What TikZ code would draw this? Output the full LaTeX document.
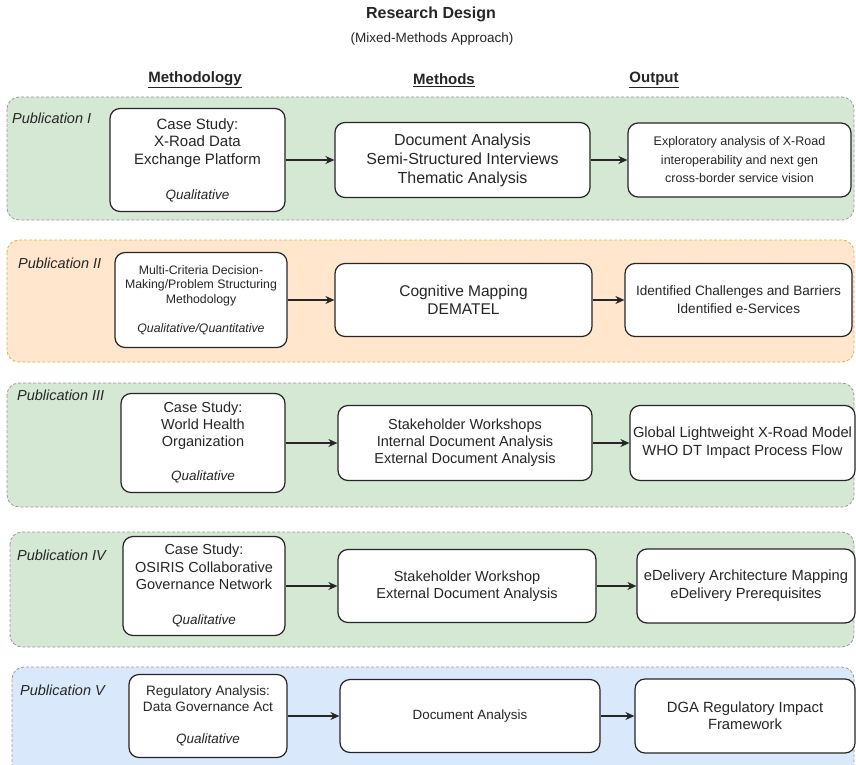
\documentclass[tikz,border=0pt]{standalone}
\usepackage{fontspec}
\setmainfont{Liberation Sans}
\usetikzlibrary{arrows.meta}
\definecolor{bandgreen}{HTML}{D5E8D4}
\definecolor{bandorange}{HTML}{FFE6CC}
\definecolor{bandblue}{HTML}{DAE8FC}
\definecolor{edgegrey}{HTML}{9A9A9A}
\definecolor{edgeorange}{HTML}{D6B656}
\definecolor{inkgrey}{HTML}{262626}
\newcommand{\fsz}[2]{\fontsize{#1}{#2}\selectfont}

\begin{document}
\begin{tikzpicture}[x=1pt, y=-1pt,
    band/.style={draw=edgegrey, dash pattern=on 3pt off 2pt, line width=0.8pt, rounded corners=12pt},
    box/.style={draw=inkgrey, fill=white, line width=1.2pt, rounded corners=10pt,
                align=center, inner sep=2pt, text=inkgrey},
    publabel/.style={anchor=west, font=\fsz{14.5}{17}\itshape, text=inkgrey, inner sep=0pt},
    head/.style={font=\fsz{15}{18}\bfseries, text=inkgrey},
    flow/.style={-{Stealth[length=9pt,width=8pt]}, line width=1.3pt, draw=inkgrey}]
  \clip (0,0) rectangle (856,765);
  \fill[white] (0,0) rectangle (856,765);

  \node[font=\fsz{16}{19}\bfseries, text=inkgrey] (title) at (431,14) {Research Design};
  \node[font=\fsz{13.5}{16}, text=inkgrey] (subtitle) at (432,39) {(Mixed-Methods Approach)};
  \node[head] (hmethodology) at (195,80) {\underline{Methodology}};
  \node[head] (hmethods) at (444,80) {\underline{Methods}};
  \node[head] (houtput) at (654,80) {\underline{Output}};

  \draw[band, fill=bandgreen] (7,97) rectangle (854,220);
  \draw[band, fill=bandorange, draw=edgeorange] (7,240) rectangle (854,362);
  \draw[band, fill=bandgreen] (7,383) rectangle (854,507);
  \draw[band, fill=bandgreen] (10,532) rectangle (854,647);
  \draw[band, fill=bandblue] (12,667) rectangle (854,780);

  \node[publabel] (p1) at (12,118) {Publication I};
  \node[publabel] (p2) at (18,263) {Publication II};
  \node[publabel] (p3) at (17,395) {Publication III};
  \node[publabel] (p4) at (17,555) {Publication IV};
  \node[publabel] (p5) at (20,690) {Publication V};

  % Publication I
  \node[box, minimum width=175, minimum height=103, font=\fsz{15}{17.5}] (m1) at (197.5,160)
    {Case Study:\\ X-Road Data\\ Exchange Platform\\[17.5pt] {\fsz{13.5}{17.5}\itshape Qualitative}};
  \node[box, minimum width=255, minimum height=75, font=\fsz{16}{19}] (t1) at (462.5,160)
    {Document Analysis\\ Semi-Structured Interviews\\ Thematic Analysis};
  \node[box, minimum width=223, minimum height=74, font=\fsz{12.5}{18.5}] (o1) at (739.5,160)
    {Exploratory analysis of X-Road\\ interoperability and next gen\\ cross-border service vision};

  % Publication II
  \node[box, minimum width=172, minimum height=95, font=\fsz{12.3}{14.5}] (m2) at (201,300)
    {Multi-Criteria Decision-\\ Making/Problem Structuring\\ Methodology\\[14.5pt] {\itshape Qualitative/Quantitative}};
  \node[box, minimum width=257, minimum height=73, font=\fsz{15.5}{18}] (t2) at (463.5,300)
    {Cognitive Mapping\\ DEMATEL};
  \node[box, minimum width=227, minimum height=73, font=\fsz{13.6}{18}] (o2) at (738.5,300)
    {Identified Challenges and Barriers\\ Identified e-Services};

  % Publication III
  \node[box, minimum width=164, minimum height=99, font=\fsz{14.5}{17}] (m3) at (203,443)
    {Case Study:\\ World Health\\ Organization\\[17pt] {\fsz{13.5}{17}\itshape Qualitative}};
  \node[box, minimum width=254, minimum height=75, font=\fsz{14.5}{17}] (t3) at (465,443)
    {Stakeholder Workshops\\ Internal Document Analysis\\ External Document Analysis};
  \node[box, minimum width=225, minimum height=75, font=\fsz{14.7}{18}] (o3) at (742.5,443)
    {Global Lightweight X-Road Model\\ WHO DT Impact Process Flow};

  % Publication IV
  \node[box, minimum width=162, minimum height=99, font=\fsz{14.5}{17.5}] (m4) at (204,586)
    {Case Study:\\ OSIRIS Collaborative\\ Governance Network\\[17.5pt] {\fsz{13.5}{17.5}\itshape Qualitative}};
  \node[box, minimum width=258, minimum height=73, font=\fsz{14.5}{17}] (t4) at (467,586)
    {Stakeholder Workshop\\ External Document Analysis};
  \node[box, minimum width=218, minimum height=74, font=\fsz{14.7}{18}] (o4) at (746,586)
    {eDelivery Architecture Mapping\\ eDelivery Prerequisites};

  % Publication V
  \node[box, minimum width=158, minimum height=83, font=\fsz{13.6}{16}] (m5) at (208,716)
    {Regulatory Analysis:\\ Data Governance Act\\[16pt] {\fsz{13.5}{16}\itshape Qualitative}};
  \node[box, minimum width=260, minimum height=73, font=\fsz{13.4}{16}] (t5) at (470,716)
    {Document Analysis};
  \node[box, minimum width=220, minimum height=74, font=\fsz{14.8}{17}] (o5) at (745,716)
    {DGA Regulatory Impact\\ Framework};

  \foreach \i in {1,...,5}{
    \draw[flow] (m\i) -- (t\i);
    \draw[flow] (t\i) -- (o\i);
  }
\end{tikzpicture}
\end{document}
